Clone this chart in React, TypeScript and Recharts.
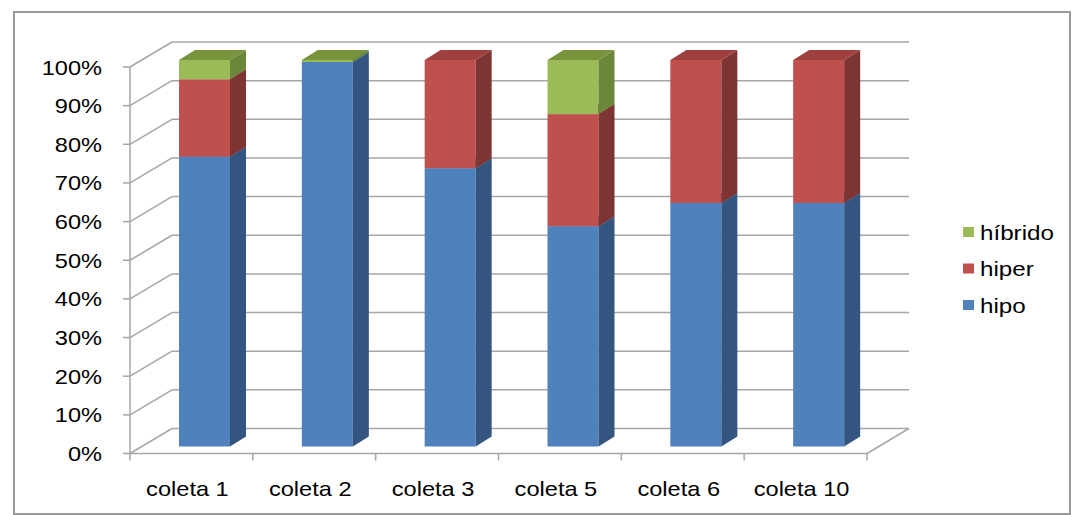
import React from "react";
import { BarChart, Bar, XAxis, YAxis, CartesianGrid } from "recharts";

const categories = ["coleta 1", "coleta 2", "coleta 3", "coleta 5", "coleta 6", "coleta 10"];
const hipo = [75, 99.5, 72, 57, 63, 63];
const hiper = [20, 0, 28, 29, 37, 37];
const hibrido = [5, 0.5, 0, 14, 0, 0];
const yTicks = [0, 10, 20, 30, 40, 50, 60, 70, 80, 90, 100];

const data = categories.map((name, i) => ({
  name,
  hipo: hipo[i],
  hiper: hiper[i],
  hibrido: hibrido[i],
}));

// plot area is the plane the bar fronts sit on
const PLOT_LEFT = 143;
const PLOT_RIGHT = 880;
const PLOT_TOP = 60;
const PLOT_BOTTOM = 446.5;
const W = 1073;
const H = 515;

// front plane of the 3D box relative to the bar plane
const FX = 13;
const FY = 7;
// depth of the box and of each bar
const DX = 42;
const DY = 25;
const BDX = 16;
const BDY = 10;

const GRID = "#A6A6A6";
const FONT = "'Liberation Sans', Arial, sans-serif";
const STRETCH = 1.18;

const colors = {
  hipo: { front: "#4F81BD", side: "#34557F", top: "#44709F" },
  hiper: { front: "#C0504D", side: "#7E3432", top: "#9E413E" },
  hibrido: { front: "#9BBB59", side: "#6A873A", top: "#77933C" },
};

type Key = keyof typeof colors;

function make3DShape(key: Key) {
  const c = colors[key];
  return (props: any) => {
    const { x, y, width, height } = props;
    if (height == null || height <= 0) return <g />;
    const r = x + width;
    const b = y + height;
    return (
      <g>
        <rect x={x} y={y} width={width} height={height} fill={c.front} />
        <polygon
          points={`${r},${y} ${r + BDX},${y - BDY} ${r + BDX},${b - BDY} ${r},${b}`}
          fill={c.side}
        />
        <polygon
          points={`${x},${y} ${r},${y} ${r + BDX},${y - BDY} ${x + BDX},${y - BDY}`}
          fill={c.top}
        />
      </g>
    );
  };
}

function gridLine(props: any) {
  const { x1, x2, y1 } = props;
  const fl = x1 - FX;
  const fr = x2 - FX;
  const fy = y1 + FY;
  const isFloor = Math.abs(y1 - PLOT_BOTTOM) < 1;
  return (
    <g key={props.key ?? `g-${y1}`}>
      <line x1={fl + DX} y1={fy - DY} x2={fr + DX} y2={fy - DY} stroke={GRID} strokeWidth={1.5} />
      <line x1={fl} y1={fy} x2={fl + DX} y2={fy - DY} stroke={GRID} strokeWidth={1.5} />
      <line x1={fl - 7} y1={fy} x2={fl} y2={fy} stroke={GRID} strokeWidth={1.5} />
      {isFloor && (
        <>
          <line x1={fl} y1={fy} x2={fr} y2={fy} stroke={GRID} strokeWidth={1.5} />
          <line x1={fr} y1={fy} x2={fr + DX} y2={fy - DY} stroke={GRID} strokeWidth={1.5} />
          <line x1={fl} y1={fy} x2={fl} y2={PLOT_TOP + FY} stroke={GRID} strokeWidth={1.5} />
        </>
      )}
    </g>
  );
}

function YTick(props: any) {
  const { y, payload } = props;
  const fy = y + FY;
  return (
    <text
      transform={`translate(${PLOT_LEFT - FX - 28}, ${fy + 7.5}) scale(${STRETCH},1)`}
      textAnchor="end"
      fontFamily={FONT}
      fontSize={20}
      fill="#000"
    >
      {`${payload.value}%`}
    </text>
  );
}

function XTick(props: any) {
  const { x, payload, index } = props;
  const band = (PLOT_RIGHT - PLOT_LEFT) / categories.length;
  const cx = x - FX;
  const fy = PLOT_BOTTOM + FY;
  return (
    <g>
      <line x1={cx - band / 2} y1={fy} x2={cx - band / 2} y2={fy + 7} stroke={GRID} strokeWidth={1.5} />
      {index === categories.length - 1 && (
        <line x1={cx + band / 2} y1={fy} x2={cx + band / 2} y2={fy + 7} stroke={GRID} strokeWidth={1.5} />
      )}
      <text
        transform={`translate(${cx - 4}, 496) scale(${STRETCH},1)`}
        textAnchor="middle"
        fontFamily={FONT}
        fontSize={20}
        fill="#000"
      >
        {payload.value}
      </text>
    </g>
  );
}

const legendItems: { key: Key; label: string }[] = [
  { key: "hibrido", label: "híbrido" },
  { key: "hiper", label: "hiper" },
  { key: "hipo", label: "hipo" },
];

function LegendBox() {
  return (
    <svg width={120} height={120}>
      {legendItems.map((it, i) => (
        <g key={it.key}>
          <rect x={3} y={12 + i * 36.5} width={11} height={10} fill={colors[it.key].front} />
          <text
            transform={`translate(20, ${24.5 + i * 36.5}) scale(${STRETCH},1)`}
            fontFamily={FONT}
            fontSize={20.5}
            fill="#000"
          >
            {it.label}
          </text>
        </g>
      ))}
    </svg>
  );
}

export default function App() {
  return (
    <div style={{ position: "absolute", left: 0, top: 0, width: W, height: H, background: "#fff" }}>
      <div
        style={{
          position: "absolute",
          left: 13,
          top: 11,
          width: 1054,
          height: 500,
          border: "2px solid #9a9a9a",
        }}
      />
      <div style={{ position: "absolute", left: 0, top: 0 }}>
        <BarChart
          width={W}
          height={H}
          data={data}
          margin={{ top: PLOT_TOP, left: PLOT_LEFT - 60, right: W - PLOT_RIGHT, bottom: H - PLOT_BOTTOM - 60 }}
        >
          <CartesianGrid horizontal={gridLine} vertical={false} />
          <XAxis
            dataKey="name"
            height={60}
            axisLine={false}
            tickLine={false}
            interval={0}
            tick={<XTick />}
          />
          <YAxis
            width={60}
            domain={[0, 100]}
            ticks={yTicks}
            axisLine={false}
            tickLine={false}
            tick={<YTick />}
          />
          <Bar dataKey="hipo" stackId="a" barSize={51} shape={make3DShape("hipo")} isAnimationActive={false} />
          <Bar dataKey="hiper" stackId="a" barSize={51} shape={make3DShape("hiper")} isAnimationActive={false} />
          <Bar dataKey="hibrido" stackId="a" barSize={51} shape={make3DShape("hibrido")} isAnimationActive={false} />
        </BarChart>
      </div>
      <div style={{ position: "absolute", left: 960, top: 215 }}>
        <LegendBox />
      </div>
    </div>
  );
}
